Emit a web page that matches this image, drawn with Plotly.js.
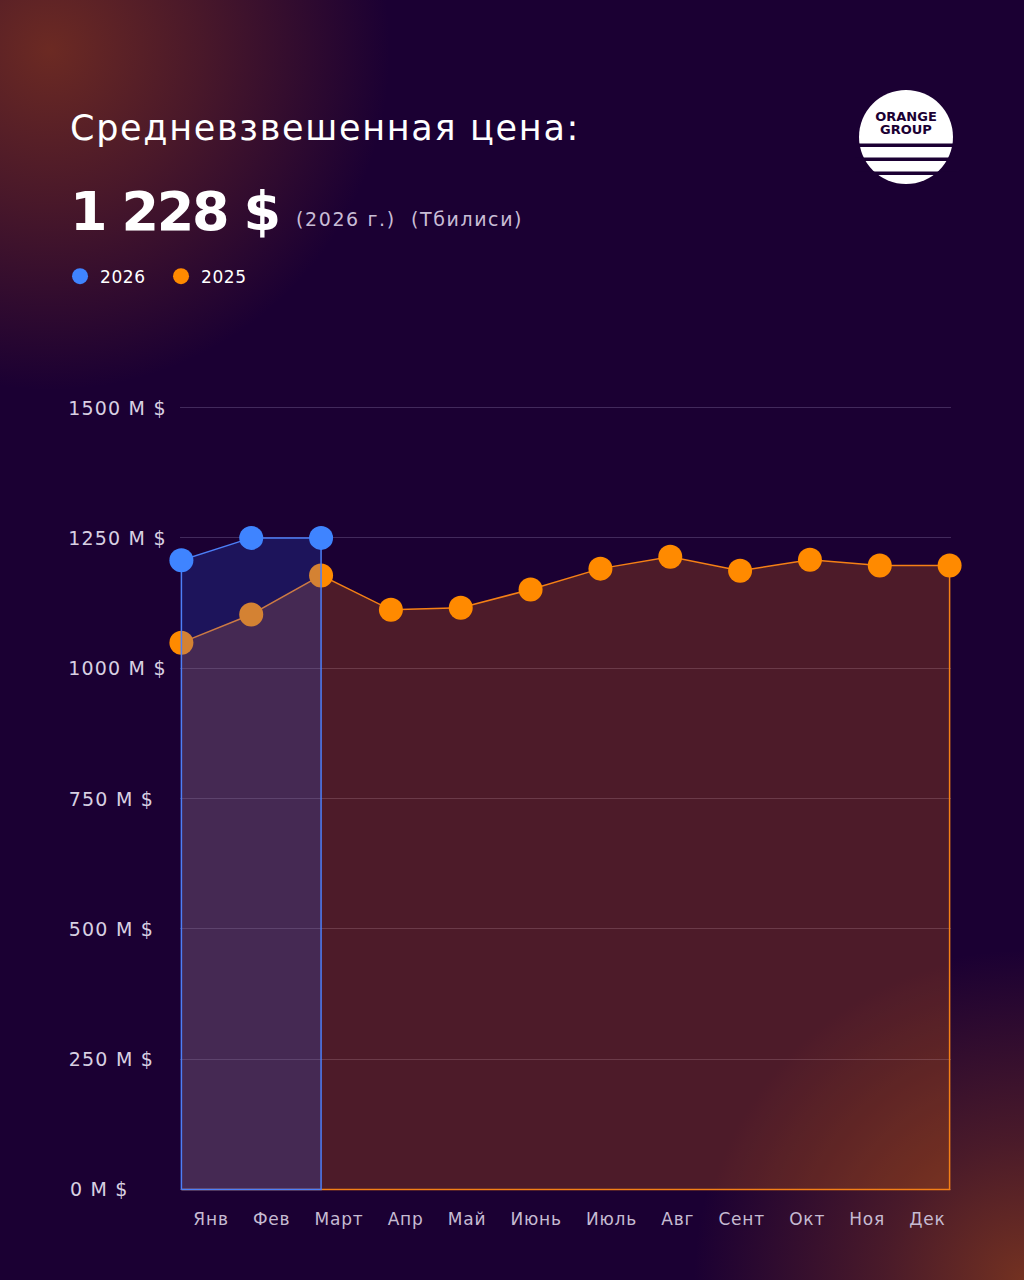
<!DOCTYPE html>
<html>
<head>
<meta charset="utf-8">
<script src="https://cdn.plot.ly/plotly-3.0.1.min.js"></script>
<style>
  html, body { margin:0; padding:0; }
  body {
    width:1024px; height:1280px; overflow:hidden; position:relative;
    background:
      radial-gradient(circle at 50px 50px, rgba(112,44,34,0.95) 0px, rgba(112,44,34,0.55) 150px, rgba(112,44,34,0) 340px),
      radial-gradient(circle at 1024px 1280px, rgba(120,52,32,0.95) 0px, rgba(120,52,32,0.5) 140px, rgba(120,52,32,0) 330px),
      #1b0033;
    font-family: "DejaVu Sans", sans-serif;
  }
  #chart { position:absolute; left:0; top:0; width:1024px; height:1280px; }
  #header { position:absolute; left:0; top:0; width:1024px; height:300px; pointer-events:none; }
  .js-plotly-plot .annotation-text { letter-spacing: 1.2px; }
  .js-plotly-plot .x2tick text { letter-spacing: 0.8px; }
  .js-plotly-plot .legendtext { letter-spacing: 0.6px; }
</style>
</head>
<body>
<div id="chart"></div>
<svg id="header" width="1024" height="300" xmlns="http://www.w3.org/2000/svg">
  <text x="70" y="140" fill="#ffffff" font-family="DejaVu Sans" font-size="35" style="letter-spacing:1.7px">Средневзвешенная цена:</text>
  <text x="70" y="230" fill="#ffffff" font-family="DejaVu Sans" font-weight="bold" font-size="54" style="letter-spacing:-2.4px">1 228 $</text>
  <text x="296" y="226" fill="#c9bdd6" font-family="DejaVu Sans" font-size="19" style="letter-spacing:1.6px; white-space:pre">(2026 г.)  (Тбилиси)</text>
  <g>
    <circle cx="906" cy="137" r="47" fill="#ffffff"/>
    <rect x="855" y="143.5" width="102" height="3.5" fill="#1b0033"/>
    <rect x="855" y="157.5" width="102" height="3.5" fill="#1b0033"/>
    <rect x="855" y="171.5" width="102" height="3.5" fill="#1b0033"/>
    <text text-anchor="middle" fill="#1b0033" font-family="DejaVu Sans" font-weight="bold" font-size="13"><tspan x="906" y="121">ORANGE</tspan><tspan x="906" y="133.5">GROUP</tspan></text>
  </g>
</svg>
<script>
const months = ['Янв','Фев','Март','Апр','Май','Июнь','Июль','Авг','Сент','Окт','Ноя','Дек'];
const months2026 = ['Янв','Фев','Март'];
const values2026 = [1207, 1250, 1250];
const values2025 = [1049, 1103, 1178, 1112, 1116, 1151, 1191, 1214, 1187, 1208, 1197, 1197];
const yTickVals = [0, 250, 500, 750, 1000, 1250, 1500];
const yTickLabels = yTickVals.map(v => v + ' M $');

const ORANGE = '#ff8a00';
const BLUE = '#3f84ff';

// closed outline: baseline -> points -> baseline -> back
function areaX(cats) { return [cats[0]].concat(cats, [cats[cats.length-1], cats[0]]); }
function areaY(vals) { return [0].concat(vals, [0, 0]); }
// open outline (no left edge): points -> baseline
function openAreaX(cats) { return cats.concat([cats[cats.length-1], cats[0]]); }
function openAreaY(vals) { return vals.concat([0, 0]); }

// plot box
const M = {l:179.6, r:72.6, t:406.4, b:88.5};
const plotW = 1024 - M.l - M.r;

// month labels are laid out justified (equal gaps between words), as in the design
const labelSpacing = 0.8;
const cv = document.createElement('canvas').getContext('2d');
cv.font = '17px "DejaVu Sans"';
const widths = months.map(m => cv.measureText(m).width + labelSpacing * m.length);
const rowLeft = 193 - M.l, rowRight = 946 - M.l;
const gap = (rowRight - rowLeft - widths.reduce((a, b) => a + b, 0)) / (months.length - 1);
const labelCenters = [];
let cursor = rowLeft;
widths.forEach(w => { labelCenters.push(cursor + w / 2); cursor += w + gap; });

const traces = [
  { // 2025 area
    type:'scatter', mode:'lines', x: openAreaX(months), y: openAreaY(values2025),
    fill:'toself', fillcolor:'rgba(255,125,10,0.22)',
    line:{color:'#f58016', width:1.5}, showlegend:false, hoverinfo:'skip'
  },
  { // 2025 markers
    type:'scatter', mode:'markers', name:'2025', x: months, y: values2025,
    marker:{color:ORANGE, size:24}, legendrank:2, cliponaxis:false
  },
  { // 2026 area
    type:'scatter', mode:'lines', x: areaX(months2026), y: areaY(values2026),
    fill:'toself', fillcolor:'rgba(40,100,255,0.2)',
    line:{color:'#4d7ff7', width:1.5}, showlegend:false, hoverinfo:'skip'
  },
  { // 2026 markers
    type:'scatter', mode:'markers', name:'2026', x: months2026, y: values2026,
    marker:{color:BLUE, size:24}, legendrank:1, cliponaxis:false
  },
  { // carrier for the month-label axis
    type:'scatter', mode:'markers', x: [], y: [], xaxis:'x2', yaxis:'y', showlegend:false, hoverinfo:'skip'
  }
];

const annotations = yTickVals.map((v, i) => ({
  xref:'paper', yref:'y', x:(70 - M.l) / plotW, y:v, text: yTickLabels[i],
  xanchor:'left', yanchor:'middle', showarrow:false,
  font:{family:'DejaVu Sans', size:19, color:'#d8d0e2'}
}));

const layout = {
  width:1024, height:1280,
  margin:{l:M.l, r:M.r, t:M.t, b:M.b, pad:0},
  paper_bgcolor:'rgba(0,0,0,0)', plot_bgcolor:'rgba(0,0,0,0)',
  showlegend:true,
  legend:{
    orientation:'h', x:(59.5 - M.l) / plotW, xanchor:'left', y:1.1648, yanchor:'middle',
    font:{family:'DejaVu Sans', size:17, color:'#ffffff'},
    bgcolor:'rgba(0,0,0,0)', itemsizing:'trace', entrywidth:56, entrywidthmode:'pixels'
  },
  xaxis:{
    type:'category', categoryorder:'array', categoryarray: months,
    range:[-0.02, 11.02], showgrid:false, zeroline:false, showline:false,
    showticklabels:false, ticks:'', fixedrange:true
  },
  xaxis2:{
    type:'linear', overlaying:'x', anchor:'y', side:'bottom',
    range:[0, plotW], tickmode:'array',
    tickvals: labelCenters, ticktext: months,
    showgrid:false, zeroline:false, showline:false, ticks:'',
    ticklabelstandoff:16,
    tickfont:{family:'DejaVu Sans', size:17, color:'#c6bbd2'}
  },
  yaxis:{
    range:[-3, 1503], tickmode:'array', tickvals: yTickVals,
    showticklabels:false, showgrid:true, gridcolor:'rgba(170,150,200,0.28)', gridwidth:1,
    zeroline:false, showline:false, ticks:'', fixedrange:true
  },
  annotations: annotations,
  hovermode:false
};

Plotly.newPlot('chart', traces, layout, {displayModeBar:false, staticPlot:true});
</script>
</body>
</html>
